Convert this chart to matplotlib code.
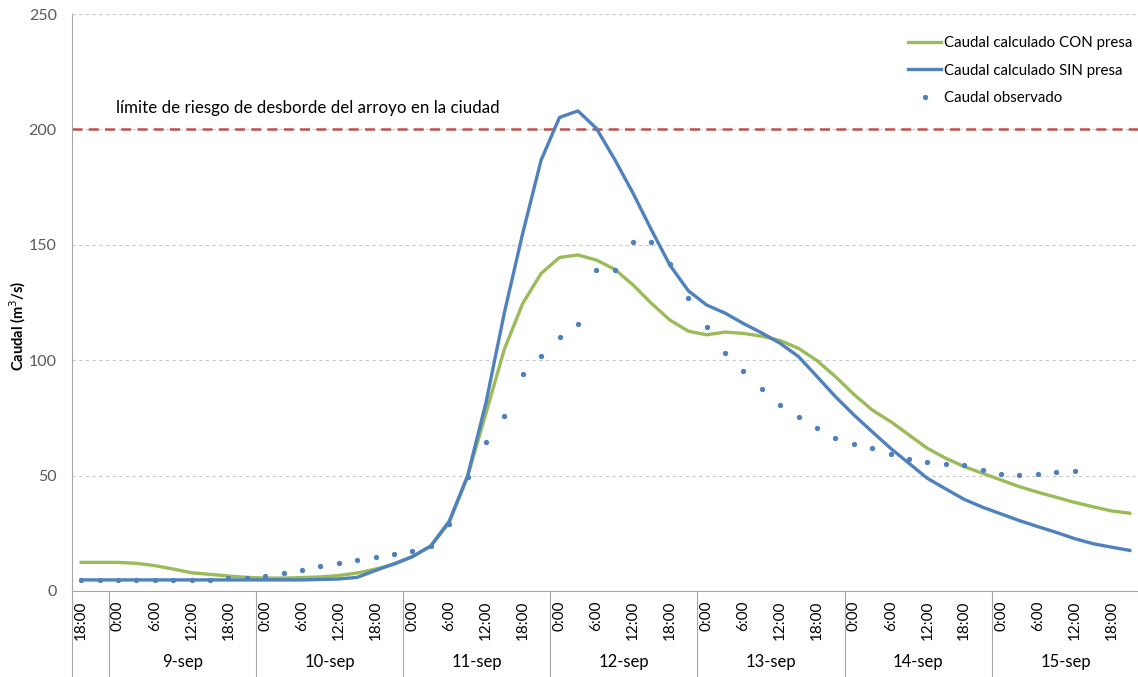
import matplotlib
matplotlib.use("Agg")
import matplotlib.pyplot as plt
import matplotlib.transforms as mtransforms
import numpy as np

plt.rcParams['font.family'] = ['Lato', 'DejaVu Sans']

# categories: 8-sep 18:00, 21:00, then 9..15-sep every 3 hours
days = ["8-sep", "9-sep", "10-sep", "11-sep", "12-sep", "13-sep", "14-sep", "15-sep"]
hours = ["0:00", "3:00", "6:00", "9:00", "12:00", "15:00", "18:00", "21:00"]
categories = [("8-sep", "18:00"), ("8-sep", "21:00")] + [(d, h) for d in days[1:] for h in hours]

con_presa = [12.4, 12.4, 12.4, 12.0, 11.0, 9.5, 7.9, 7.2, 6.5, 5.9,
             5.6, 5.6, 5.8, 6.1, 6.7, 7.8, 9.5, 11.5, 14.8, 19.4,
             29.5, 49.5, 77.0, 104.7, 124.6, 137.6, 144.5, 145.6, 143.4, 139.4,
             132.6, 124.6, 117.4, 112.6, 111.0, 112.2, 111.6, 110.4, 108.5, 105.1,
             99.8, 92.9, 85.2, 78.4, 73.4, 67.6, 61.8, 57.5, 53.9, 51.0,
             48.1, 45.2, 42.8, 40.6, 38.4, 36.5, 34.7, 33.7]

sin_presa = [4.8, 4.8, 4.8, 4.8, 4.8, 4.8, 4.8, 4.8, 4.8, 4.8,
             4.8, 4.8, 4.8, 5.0, 5.2, 5.9, 8.9, 11.8, 14.9, 19.5,
             30.2, 49.8, 81.5, 120.5, 155.0, 186.7, 205.2, 208.0, 200.5, 187.0,
             172.3, 156.4, 141.2, 130.1, 123.9, 120.4, 115.9, 111.8, 107.3, 101.5,
             92.9, 84.2, 76.3, 69.0, 61.8, 55.3, 48.8, 44.2, 39.7, 36.3,
             33.4, 30.5, 27.9, 25.4, 22.7, 20.5, 19.0, 17.6]

observado = [4.9, 4.9, 4.9, 4.9, 4.9, 4.9, 4.9, 4.9, 5.5, 5.8,
             6.5, 7.7, 9.1, 10.8, 12.0, 13.4, 14.9, 15.9, 17.3, 19.5,
             28.9, 49.6, 64.6, 76.0, 93.9, 101.8, 110.0, 115.8, 139.0, 139.0,
             151.2, 151.2, 141.5, 126.8, 114.5, 103.3, 95.3, 87.7, 80.4, 75.4,
             70.8, 66.1, 63.7, 61.8, 59.3, 57.3, 55.9, 55.0, 54.6, 52.3,
             50.8, 50.3, 50.7, 51.6, 51.9, np.nan, np.nan, np.nan]

limite = 200
limite_label = "límite de riesgo de desborde del arroyo en la ciudad"
yticks = [0, 50, 100, 150, 200, 250]

green = "#9BBB59"
blue = "#4F81BD"
red = "#C0504D"
txt = "#595959"
axis_c = "#A6A6A6"

fig = plt.figure(figsize=(11.38, 6.77), dpi=100)
ax = fig.add_axes([72 / 1138, 86 / 677, 1067 / 1138, 577 / 677])

x = np.arange(len(categories))
ax.plot(x, con_presa, color=green, lw=2.4, label="Caudal calculado CON presa", zorder=3)
ax.plot(x, sin_presa, color=blue, lw=2.4, label="Caudal calculado SIN presa", zorder=4)
ax.plot(x, observado, linestyle="none", marker="o", ms=2.8, color=blue,
        label="Caudal observado", zorder=5)
ax.axhline(limite, color=red, lw=1.8, ls=(0, (4, 2.5)), zorder=2)
ax.text(1.9, limite + 6, limite_label, fontsize=12.2, color="black", va="bottom", ha="left")

ax.set_xlim(-0.5, len(categories) - 0.5)
ax.set_ylim(0, 250)
ax.set_yticks(yticks)
ax.yaxis.grid(True, color="#C8C8C8", ls=(0, (3, 3)), lw=0.8)
ax.set_axisbelow(True)
for s in ["top", "right"]:
    ax.spines[s].set_visible(False)
ax.spines["left"].set_color(axis_c)
ax.spines["bottom"].set_color(axis_c)
ax.tick_params(axis="y", length=0, labelsize=11.5, labelcolor=txt, pad=11)

tick_idx = [i for i in range(len(categories)) if i % 2 == 0]
ax.set_xticks(tick_idx)
ax.set_xticklabels([categories[i][1] for i in tick_idx], rotation=90, fontsize=11, color="black")
ax.tick_params(axis="x", length=0, pad=7)

ax.set_ylabel("Caudal (m$^3$/s)", fontsize=10.5, fontweight="bold", va="center")
ax.yaxis.set_label_coords(-54 / 1067, 0.46)

# day grouping
trans = mtransforms.blended_transform_factory(ax.transData, ax.transAxes)
bottom_y = -86 / 577
ax.plot([-0.5, -0.5], [0, bottom_y], color=axis_c, lw=0.8, transform=trans, clip_on=False)
start = 0
groups = []
for d in days:
    n = sum(1 for c in categories if c[0] == d)
    groups.append((d, start, n))
    start += n
for d, s, n in groups:
    ax.plot([s + n - 0.5, s + n - 0.5], [0, bottom_y], color=axis_c, lw=0.8,
            transform=trans, clip_on=False)
    if n >= 8:
        ax.text(s + n / 2 - 0.5, -71 / 577, d, transform=trans, ha="center", va="center",
                fontsize=12, color="black")

leg = ax.legend(loc="upper right", bbox_to_anchor=(1.006, 0.985), frameon=False, fontsize=10.8,
                handlelength=2.2, handletextpad=0.15, labelspacing=0.9)

fig.savefig("out.png", dpi=100)
